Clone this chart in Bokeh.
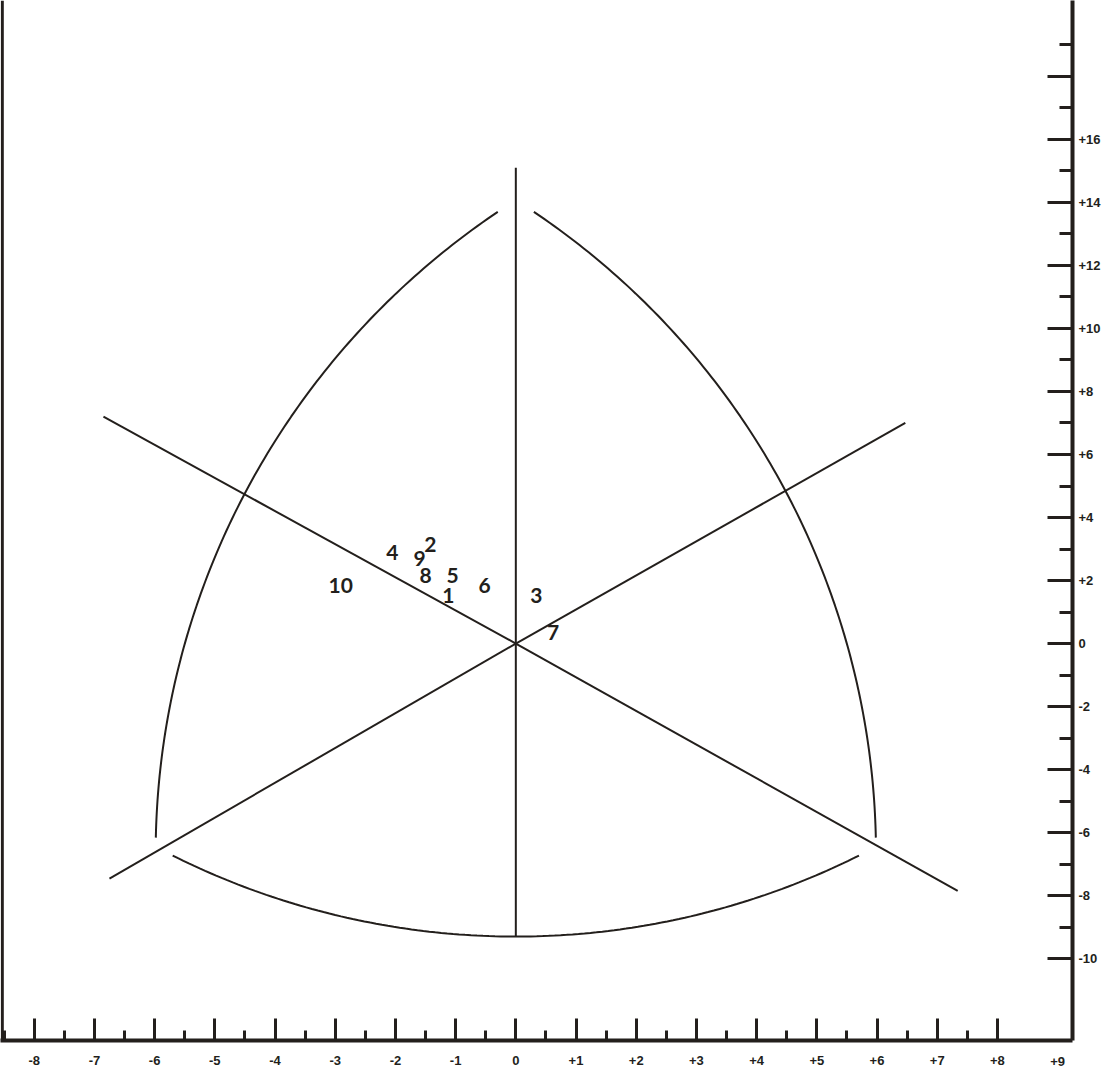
import numpy as np
from bokeh.plotting import figure
from bokeh.models import Range1d, LinearAxis, FixedTicker, Span
from bokeh.embed import file_html
from bokeh.resources import INLINE
from bokeh.core.properties import value

# ---------------- data ----------------
x_ticks = [-8, -7, -6, -5, -4, -3, -2, -1, 0, 1, 2, 3, 4, 5, 6, 7, 8]
x_minor = [-8.5, -7.5, -6.5, -5.5, -4.5, -3.5, -2.5, -1.5, -0.5, 0.5, 1.5, 2.5, 3.5, 4.5, 5.5, 6.5, 7.5]
x_last_label = [9]
y_ticks = [-10, -8, -6, -4, -2, 0, 2, 4, 6, 8, 10, 12, 14, 16]
y_minor = [-9, -7, -5, -3, -1, 1, 3, 5, 7, 9, 11, 13, 15, 17, 19]
y_unlabelled_major = [18]

# rays of the diagram, drawn from the centre (0, 0) to these ends
ray_x = [0.0, 0.0, -6.85, 6.47, -6.75, 7.34]
ray_y = [15.1, -9.3, 7.2, 7.0, -7.46, -7.85]

# three arcs, each given by start, middle and end point
arc_sx = [-0.30, 0.30, -5.70]
arc_sy = [13.7, 13.7, -6.73]
arc_mx = [-4.41, 4.41, 0.0]
arc_my = [5.09, 5.09, -9.3]
arc_ex = [-5.98, 5.98, 5.70]
arc_ey = [-6.16, -6.16, -6.73]

# numbered points
pt_label = ["1", "2", "3", "4", "5", "6", "7", "8", "9", "10"]
pt_x = [-1.12, -1.42, 0.34, -2.05, -1.05, -0.52, 0.62, -1.50, -1.60, -2.91]
pt_y = [1.52, 3.14, 1.52, 2.89, 2.16, 1.84, 0.35, 2.16, 2.70, 1.84]

# ---------------- helpers ----------------
PX_X, PX_Y = 60.2, 31.5   # screen pixels per unit, so that the arcs are circular on screen


def circle_arc(x0, y0, x1, y1, x2, y2, n=120):
    a = np.array([x0 * PX_X, y0 * PX_Y])
    b = np.array([x1 * PX_X, y1 * PX_Y])
    c = np.array([x2 * PX_X, y2 * PX_Y])
    d = 2 * (a[0] * (b[1] - c[1]) + b[0] * (c[1] - a[1]) + c[0] * (a[1] - b[1]))
    ux = ((a @ a) * (b[1] - c[1]) + (b @ b) * (c[1] - a[1]) + (c @ c) * (a[1] - b[1])) / d
    uy = ((a @ a) * (c[0] - b[0]) + (b @ b) * (a[0] - c[0]) + (c @ c) * (b[0] - a[0])) / d
    r = np.hypot(a[0] - ux, a[1] - uy)
    t0 = np.arctan2(a[1] - uy, a[0] - ux)
    t1 = np.arctan2(b[1] - uy, b[0] - ux)
    t2 = np.arctan2(c[1] - uy, c[0] - ux)
    dm = (t1 - t0) % (2 * np.pi)
    de = (t2 - t0) % (2 * np.pi)
    sweep = de if dm < de else de - 2 * np.pi
    t = t0 + np.linspace(0, sweep, n)
    return list((ux + r * np.cos(t)) / PX_X), list((uy + r * np.sin(t)) / PX_Y)


def fmt(t):
    return ("+%d" % t) if t > 0 else str(t)


# ---------------- figure ----------------
INK = "#231f1c"
X0, X1 = -8.56, 9.247
Y0, Y1 = -12.60, 20.41
p = figure(frame_width=1072, frame_height=1040, output_backend="svg", toolbar_location=None,
           x_range=Range1d(X0, X1), y_range=Range1d(Y0, Y1),
           min_border_left=0, min_border_top=0, min_border_right=0, min_border_bottom=0,
           x_axis_location=None, y_axis_location=None)
p.grid.visible = False
p.outline_line_color = None
p.background_fill_color = "white"


def style_labels(ax):
    ax.major_label_text_font = "Liberation Sans"
    ax.major_label_text_font_style = "bold"
    ax.major_label_text_font_size = "13px"
    ax.major_label_text_color = INK


# bottom axis with ticks and labels -8 .. +8
xa = LinearAxis(ticker=FixedTicker(ticks=x_ticks, minor_ticks=x_minor))
xa.major_tick_in = 22
xa.major_tick_out = 0
xa.minor_tick_in = 10
xa.minor_tick_out = 0
xa.major_tick_line_width = 3
xa.minor_tick_line_width = 3
xa.axis_line_width = 4
xa.axis_line_color = INK
xa.major_tick_line_color = INK
xa.minor_tick_line_color = INK
xa.major_label_overrides = {t: fmt(t) for t in x_ticks}
xa.major_label_standoff = 15
style_labels(xa)
p.add_layout(xa, "below")

# the "+9" label, which has no tick: a second axis pulled up to the same line
xl = LinearAxis(ticker=FixedTicker(ticks=x_last_label, minor_ticks=[]))
xl.axis_line_color = None
xl.major_tick_line_color = None
xl.minor_tick_line_color = None
xl.major_tick_in = 0
xl.major_tick_out = 0
xl.major_label_overrides = {t: fmt(t) for t in x_last_label}
xl.major_label_standoff = -11
style_labels(xl)
p.add_layout(xl, "below")

# right axis
ya = LinearAxis(ticker=FixedTicker(ticks=y_ticks, minor_ticks=y_minor))
ya.major_label_overrides = {t: fmt(t) for t in y_ticks}
ya.major_tick_in = 25
ya.major_tick_out = 0
ya.minor_tick_in = 13
ya.minor_tick_out = 0
ya.major_tick_line_width = 3
ya.minor_tick_line_width = 3
ya.axis_line_width = 4
ya.axis_line_color = INK
ya.major_tick_line_color = INK
ya.minor_tick_line_color = INK
ya.major_label_standoff = 6
ya.major_label_orientation = "horizontal"
style_labels(ya)
p.add_layout(ya, "right")

# the unlabelled long tick near the top of the right axis
tick_len = 25 / PX_X
p.segment([X1 - tick_len] * len(y_unlabelled_major), y_unlabelled_major,
          [X1] * len(y_unlabelled_major), y_unlabelled_major, line_color=INK, line_width=3)

# left border
p.add_layout(Span(location=-8.53, dimension="height", line_color=INK, line_width=3))

# rays from the centre
p.segment([0.0] * len(ray_x), [0.0] * len(ray_y), ray_x, ray_y, line_color=INK, line_width=2)

# arcs
xs, ys = [], []
for i in range(len(arc_sx)):
    ax_, ay_ = circle_arc(arc_sx[i], arc_sy[i], arc_mx[i], arc_my[i], arc_ex[i], arc_ey[i])
    xs.append(ax_)
    ys.append(ay_)
p.multi_line(xs, ys, line_color=INK, line_width=2)

p.text(pt_x, pt_y, text=pt_label, text_align="center", text_baseline="middle",
       text_font=value("Lato"), text_font_style="bold", text_font_size="21px", text_color=INK)

open("out.html", "w").write(file_html(p, INLINE))
